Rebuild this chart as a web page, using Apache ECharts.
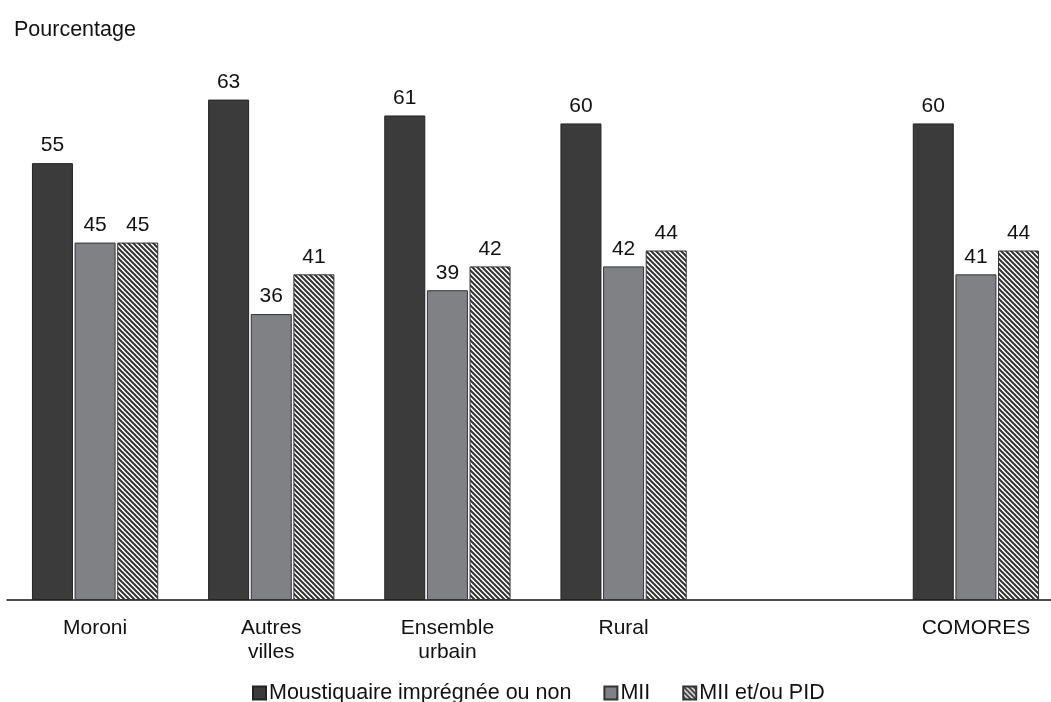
<!DOCTYPE html>
<html>
<head>
<meta charset="utf-8">
<script src="https://cdn.jsdelivr.net/npm/echarts@6/dist/echarts.min.js"></script>
<style>
html,body{margin:0;padding:0;background:#fff;overflow:hidden;width:1051px;height:702px;}
#chart{width:1065px;height:702px;}
</style>
</head>
<body>
<div id="chart"></div>
<script>
var categories = ['Moroni', 'Autres\nvilles', 'Ensemble\nurbain', 'Rural', '', 'COMORES'];
var seriesNames = ['Moustiquaire imprégnée ou non', 'MII', 'MII et/ou PID'];
var moustiquaire = [55, 63, 61, 60, null, 60];
var mii = [45, 36, 39, 42, null, 41];
var miiPid = [45, 41, 42, 44, null, 44];

function hatch() {
  var c = document.createElement('canvas');
  var n = 5;
  c.width = n; c.height = n;
  var ctx = c.getContext('2d');
  ctx.fillStyle = '#ffffff';
  ctx.fillRect(0, 0, n, n);
  ctx.strokeStyle = '#333333';
  ctx.lineWidth = 2;
  ctx.beginPath();
  ctx.moveTo(-1, -1); ctx.lineTo(n + 1, n + 1);
  ctx.moveTo(-2, n - 2); ctx.lineTo(2, n + 2);
  ctx.moveTo(n - 2, -2); ctx.lineTo(n + 2, 2);
  ctx.stroke();
  return c;
}
var hatchPattern = { image: hatch(), repeat: 'repeat' };

var font = 'Liberation Sans, Arial, sans-serif';
var labelCfg = { show: true, position: 'top', distance: 7, color: '#111', fontSize: 21, fontFamily: font };

var chart = echarts.init(document.getElementById('chart'));
chart.setOption({
  animation: false,
  backgroundColor: '#fff',
  title: { text: 'Pourcentage', left: 9, top: 14, textStyle: { fontSize: 21.5, fontWeight: 'normal', color: '#111', fontFamily: font } },
  grid: { left: 7, right: 1, top: 44, bottom: 102, containLabel: false },
  legend: {
    top: 677, left: 247, itemWidth: 13, itemHeight: 13, itemGap: 32, icon: 'rect',
    textStyle: { fontSize: 21.5, color: '#111', fontFamily: font, padding: [0, 0, 0, -2] },
    data: seriesNames
  },
  xAxis: {
    type: 'category', data: categories,
    axisLine: { lineStyle: { color: '#111', width: 1.5 } },
    axisTick: { show: false },
    axisLabel: { color: '#111', fontSize: 21, fontFamily: font, margin: 16, lineHeight: 24, interval: 0 }
  },
  yAxis: { type: 'value', min: 0, max: 70, show: false, splitLine: { show: false } },
  series: [
    { name: seriesNames[0], type: 'bar', data: moustiquaire, barWidth: 41, barGap: '4%',
      itemStyle: { color: '#3b3b3b', borderColor: '#222', borderWidth: 1 }, label: labelCfg },
    { name: seriesNames[1], type: 'bar', data: mii, barWidth: 41, barGap: '4%',
      itemStyle: { color: '#808185', borderColor: '#333', borderWidth: 1 }, label: labelCfg },
    { name: seriesNames[2], type: 'bar', data: miiPid, barWidth: 41, barGap: '4%',
      itemStyle: { color: hatchPattern, borderColor: '#333', borderWidth: 1 }, label: labelCfg }
  ]
});
</script>
</body>
</html>
